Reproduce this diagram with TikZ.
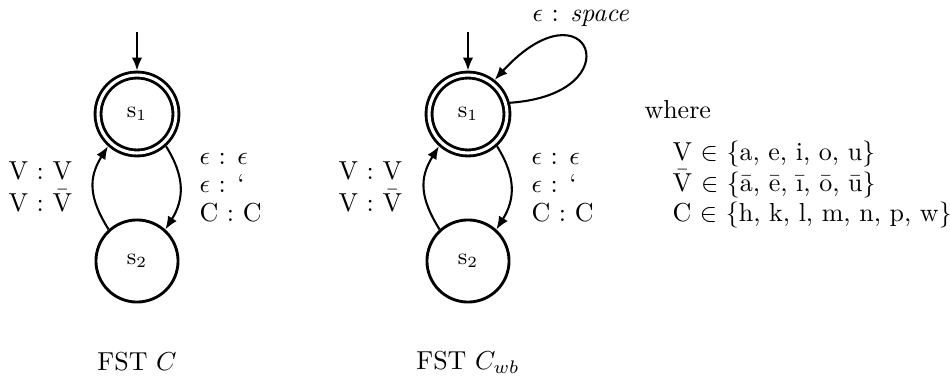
\documentclass[tikz,border=0pt]{standalone}
\usetikzlibrary{arrows.meta}
\begin{document}
\begin{tikzpicture}[x=0.385pt,y=0.385pt,
  statenode/.style={circle,draw,line width=1.1pt,inner sep=0pt,font=\small},
  acc/.style={statenode,double,double distance=1.2pt,minimum size=30pt,outer sep=1.7pt},
  plainstate/.style={statenode,minimum size=31.6pt},
  edgeline/.style={line width=0.8pt,-{Latex[length=5pt,width=4pt]}},
  lbl/.style={inner sep=0pt,anchor=base west}]
\useasboundingbox (0,0) rectangle (950,376);

% ---- FST C ----
\node[acc] (a1) at (137,262) {$\mathrm{s}_1$};
\node[plainstate] (a2) at (137,115) {$\mathrm{s}_2$};
\coordinate (ai) at (137,344);
\draw[edgeline] (ai) -- (a1);
\draw[edgeline] (a1.-48) to[out=-58,in=58,looseness=1.1] (a2.48);
\draw[edgeline] (a2.132) to[out=122,in=238,looseness=1.15] (a1.228);
\node[lbl] (al1) at (8,197) {V : V};
\node[lbl] (al2) at (8,165) {V : $\smash{\bar{\mathrm{V}}}$};
\node[lbl] (ar1) at (199,212) {$\epsilon$ : $\epsilon$};
\node[lbl] (ar2) at (199,184) {$\epsilon$ : \textquoteleft};
\node[lbl] (ar3) at (199,155) {C : C};
\node (acap) at (137,14) {FST $C$};

% ---- FST C_wb ----
\node[acc] (b1) at (468,262) {$\mathrm{s}_1$};
\node[plainstate] (b2) at (468,115) {$\mathrm{s}_2$};
\coordinate (bi) at (468,344);
\draw[edgeline] (bi) -- (b1);
\draw[edgeline] (b1.-48) to[out=-58,in=58,looseness=1.1] (b2.48);
\draw[edgeline] (b2.132) to[out=122,in=238,looseness=1.15] (b1.228);
\draw[edgeline] (b1.15) .. controls (635,282) and (588,398) .. (b1.52);
\node[lbl] (bl1) at (338,197) {V : V};
\node[lbl] (bl2) at (338,165) {V : $\smash{\bar{\mathrm{V}}}$};
\node[lbl] (br1) at (531,212) {$\epsilon$ : $\epsilon$};
\node[lbl] (br2) at (531,184) {$\epsilon$ : \textquoteleft};
\node[lbl] (br3) at (531,155) {C : C};
\node[lbl] (bloop) at (532,355) {$\epsilon$ : \textit{space}};
\node (bcap) at (468,14) {FST $C_{wb}$};

% ---- where block ----
\node[lbl] (wh) at (644,258) {where};
\node[lbl] (set1) at (672,216) {V $\in$ \{a, e, i, o, u\}};
\node[lbl] (set2) at (672,185) {$\smash{\bar{\mathrm{V}}}$ $\in$ \{ā, ē, ī, ō, ū\}};
\node[lbl] (set3) at (672,155) {C $\in$ \{h, k, l, m, n, p, w\}};
\end{tikzpicture}
\end{document}
